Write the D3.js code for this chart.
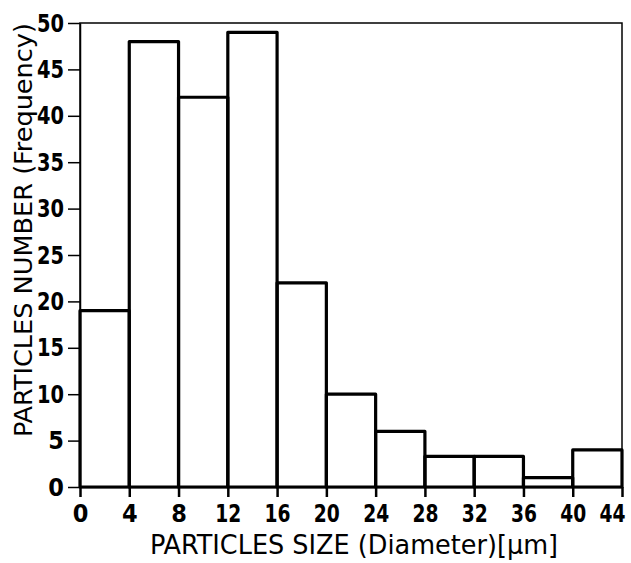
<!DOCTYPE html>
<html>
<head>
<meta charset="utf-8">
<script src="https://cdn.jsdelivr.net/npm/d3@7"></script>
<style>
  body { margin: 0; background: #fff; }
  text { font-family: "DejaVu Sans Condensed", "DejaVu Sans", sans-serif; fill: #000; }
</style>
</head>
<body>
<div id="chart"></div>
<script>
// histogram bins (µm) and counts
const binStarts = [0, 4, 8, 12, 16, 20, 24, 28, 32, 36, 40];
const binWidth = 4;
const counts = [19, 48, 42, 49, 22, 10, 6, 3.3, 3.3, 1, 4];
const xTicks = [0, 4, 8, 12, 16, 20, 24, 28, 32, 36, 40, 44];
const yTicks = [0, 5, 10, 15, 20, 25, 30, 35, 40, 45, 50];

const width = 631, height = 563;
const margin = {top: 23, right: 9, bottom: 76, left: 80};

const svg = d3.select("#chart").append("svg")
  .attr("width", width)
  .attr("height", height);

const x = d3.scaleLinear().domain([0, 44]).range([margin.left, width - margin.right]);
const y = d3.scaleLinear().domain([0, 50]).range([height - margin.bottom, margin.top]);

// frame (top and right thin lines)
svg.append("rect")
  .attr("x", x(0)).attr("y", y(50))
  .attr("width", x(44) - x(0)).attr("height", y(0) - y(50))
  .attr("fill", "none").attr("stroke", "#000").attr("stroke-width", 1.5);

// bars
svg.append("g")
  .selectAll("rect")
  .data(binStarts.map((s, i) => ({s: s, v: counts[i]})))
  .enter()
  .append("rect")
  .attr("x", d => x(d.s))
  .attr("y", d => y(d.v))
  .attr("width", d => x(d.s + binWidth) - x(d.s))
  .attr("height", d => y(0) - y(d.v))
  .attr("fill", "none")
  .attr("stroke", "#000")
  .attr("stroke-width", 3.2)
  .attr("stroke-linejoin", "round");

// x axis
const xAxis = svg.append("g")
  .attr("transform", "translate(0," + y(0) + ")")
  .call(d3.axisBottom(x).tickValues(xTicks).tickSize(10).tickPadding(7).tickSizeOuter(0));
xAxis.select(".domain").attr("stroke-width", 1.5);
xAxis.selectAll(".tick line").attr("stroke-width", 2.5);
xAxis.selectAll("text")
  .attr("font-size", 25)
  .attr("font-weight", "bold")
  .attr("font-family", null)
  .attr("textLength", 26)
  .attr("lengthAdjust", "spacingAndGlyphs")
  .filter(d => d < 10).attr("textLength", null);
// keep the last label inside the picture
xAxis.selectAll(".tick").filter(d => d === 44).select("text")
  .attr("text-anchor", "end").attr("dx", 3);

// y axis
const yAxis = svg.append("g")
  .attr("transform", "translate(" + x(0) + ",0)")
  .call(d3.axisLeft(y).tickValues(yTicks).tickSize(12).tickPadding(4).tickSizeOuter(0));
yAxis.select(".domain").attr("stroke-width", 1.5);
yAxis.selectAll(".tick line").attr("stroke-width", 1.5);
yAxis.selectAll("text")
  .attr("font-size", 25)
  .attr("font-weight", "bold")
  .attr("font-family", null)
  .attr("textLength", 27)
  .attr("lengthAdjust", "spacingAndGlyphs")
  .filter(d => d < 10).attr("textLength", null);

// axis titles
svg.append("text")
  .attr("x", 150)
  .attr("y", 554)
  .attr("font-size", 27)
  .attr("textLength", 408)
  .attr("lengthAdjust", "spacingAndGlyphs")
  .text("PARTICLES  SIZE  (Diameter)[μm]");

svg.append("text")
  .attr("transform", "translate(32,437) rotate(-90)")
  .attr("font-size", 24)
  .attr("textLength", 414)
  .attr("lengthAdjust", "spacingAndGlyphs")
  .text("PARTICLES NUMBER (Frequency)");
</script>
</body>
</html>
